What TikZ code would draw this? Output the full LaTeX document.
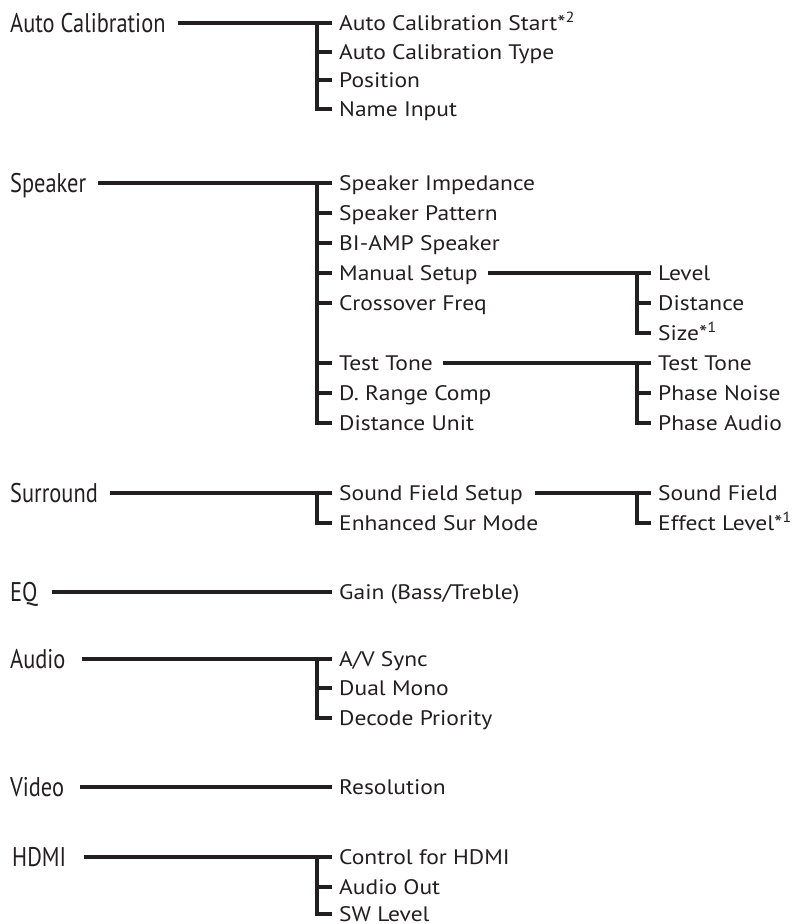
\documentclass[tikz,border=0pt]{standalone}
\usepackage{fontspec}
\setmainfont[FakeStretch=1.12]{PT Sans}
\newfontfamily\condfont[FakeStretch=0.83]{PT Sans}
\definecolor{ink}{HTML}{231F20}
\tikzset{
  title/.style={anchor=west, inner sep=0pt, text height=19pt, text depth=0pt,
    font=\condfont\fontsize{27}{30}\selectfont, text=ink},
  item/.style={anchor=west, inner sep=0pt, text height=14.5pt, text depth=0pt,
    font=\fontsize{21}{24}\selectfont, text=ink},
  conn/.style={line width=4pt, draw=ink, line join=miter}
}
\begin{document}
\begin{tikzpicture}[x=1pt,y=-1pt]
\useasboundingbox (0,0) rectangle (793,924);
% ---------------- Auto Calibration
\node[title] (ac) at (10,23) {Auto Calibration};
\node[item] (ac1) at (339,23) {Auto Calibration Start*\textsuperscript{2}};
\node[item] (ac2) at (339,52) {Auto Calibration Type};
\node[item] (ac3) at (339,80) {Position};
\node[item] (ac4) at (339,109) {Name Input};
\draw[conn] ([xshift=12pt]ac.east) -- ([xshift=-7pt]ac1.west);
\draw[conn] ([xshift=-22pt]ac1.west) |- ([xshift=-7pt]ac4.west);
\foreach \n in {ac2,ac3} \draw[conn] ([xshift=-22pt]\n.west) -- ([xshift=-7pt]\n.west);
% ---------------- Speaker
\node[title] (sp) at (10,183) {Speaker};
\node[item] (s1) at (339,183) {Speaker Impedance};
\node[item] (s2) at (339,213) {Speaker Pattern};
\node[item] (s3) at (339,243) {BI-AMP Speaker};
\node[item] (s4) at (339,273) {Manual Setup};
\node[item] (s5) at (339,303) {Crossover Freq};
\node[item] (s6) at (339,363) {Test Tone};
\node[item] (s7) at (339,393) {D. Range Comp};
\node[item] (s8) at (339,423) {Distance Unit};
\draw[conn] ([xshift=12pt]sp.east) -- ([xshift=-7pt]s1.west);
\draw[conn] ([xshift=-22pt]s1.west) |- ([xshift=-7pt]s8.west);
\foreach \n in {s2,s3,s4,s5,s6,s7} \draw[conn] ([xshift=-22pt]\n.west) -- ([xshift=-7pt]\n.west);
% Manual Setup subtree
\node[item] (m1) at (658,273) {Level};
\node[item] (m2) at (658,303) {Distance};
\node[item] (m3) at (658,333) {Size*\textsuperscript{1}};
\draw[conn] ([xshift=10pt]s4.east) -- ([xshift=-7pt]m1.west);
\draw[conn] ([xshift=-21pt]m1.west) |- ([xshift=-7pt]m3.west);
\draw[conn] ([xshift=-21pt]m2.west) -- ([xshift=-7pt]m2.west);
% Test Tone subtree
\node[item] (t1) at (658,363) {Test Tone};
\node[item] (t2) at (658,393) {Phase Noise};
\node[item] (t3) at (658,423) {Phase Audio};
\draw[conn] ([xshift=10pt]s6.east) -- ([xshift=-7pt]t1.west);
\draw[conn] ([xshift=-21pt]t1.west) |- ([xshift=-7pt]t3.west);
\draw[conn] ([xshift=-21pt]t2.west) -- ([xshift=-7pt]t2.west);
% ---------------- Surround
\node[title] (su) at (10,493) {Surround};
\node[item] (u1) at (339,493) {Sound Field Setup};
\node[item] (u2) at (339,523) {Enhanced Sur Mode};
\draw[conn] ([xshift=12pt]su.east) -- ([xshift=-7pt]u1.west);
\draw[conn] ([xshift=-22pt]u1.west) |- ([xshift=-7pt]u2.west);
\node[item] (f1) at (658,493) {Sound Field};
\node[item] (f2) at (658,523) {Effect Level*\textsuperscript{1}};
\draw[conn] ([xshift=12pt]u1.east) -- ([xshift=-7pt]f1.west);
\draw[conn] ([xshift=-21pt]f1.west) |- ([xshift=-7pt]f2.west);
% ---------------- EQ
\node[title] (eq) at (10,592) {EQ};
\node[item] (e1) at (339,592) {Gain (Bass/Treble)};
\draw[conn] ([xshift=14pt]eq.east) -- ([xshift=-7pt]e1.west);
% ---------------- Audio
\node[title] (au) at (10,659) {Audio};
\node[item] (a1) at (339,659) {A/V Sync};
\node[item] (a2) at (339,688) {Dual Mono};
\node[item] (a3) at (339,718) {Decode Priority};
\draw[conn] ([xshift=16pt]au.east) -- ([xshift=-7pt]a1.west);
\draw[conn] ([xshift=-22pt]a1.west) |- ([xshift=-7pt]a3.west);
\draw[conn] ([xshift=-22pt]a2.west) -- ([xshift=-7pt]a2.west);
% ---------------- Video
\node[title] (vi) at (10,787) {Video};
\node[item] (v1) at (339,787) {Resolution};
\draw[conn] ([xshift=16pt]vi.east) -- ([xshift=-7pt]v1.west);
% ---------------- HDMI
\node[title] (hd) at (12,857) {HDMI};
\node[item] (h1) at (339,857) {Control for HDMI};
\node[item] (h2) at (339,887) {Audio Out};
\node[item] (h3) at (339,914) {SW Level};
\draw[conn] ([xshift=18pt]hd.east) -- ([xshift=-7pt]h1.west);
\draw[conn] ([xshift=-22pt]h1.west) |- ([xshift=-7pt]h3.west);
\draw[conn] ([xshift=-22pt]h2.west) -- ([xshift=-7pt]h2.west);
\end{tikzpicture}
\end{document}
